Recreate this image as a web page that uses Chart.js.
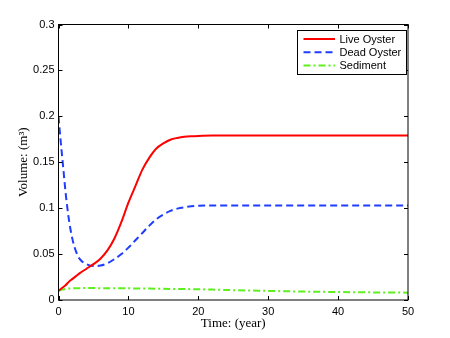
<!DOCTYPE html>
<html>
<head>
<meta charset="utf-8">
<script src="https://cdn.jsdelivr.net/npm/chart.js@4/dist/chart.umd.min.js"></script>
<style>
  html, body { margin: 0; padding: 0; background: #fff; }
  #wrap { width: 450px; height: 338px; }
</style>
</head>
<body>
<div id="wrap"><canvas id="volChart"></canvas></div>
<script>
const years = [0, 0.25, 0.5, 0.75, 1, 1.5, 2, 2.5, 3, 4, 5, 6, 7, 8, 9, 10, 11, 12, 13, 14, 15, 16, 17, 18, 19, 20, 22, 25, 30, 35, 40, 45, 50];

const liveOyster = [0.010, 0.0115, 0.013, 0.0145, 0.016, 0.020, 0.023, 0.026, 0.029, 0.034, 0.039, 0.045, 0.054, 0.067, 0.085, 0.106, 0.124, 0.142, 0.155, 0.165, 0.1705, 0.1745, 0.1765, 0.1778, 0.1784, 0.1787, 0.179, 0.179, 0.179, 0.179, 0.179, 0.179, 0.179];

const deadOyster = [0.200, 0.178, 0.158, 0.138, 0.118, 0.087, 0.066, 0.053, 0.045, 0.039, 0.037, 0.0375, 0.040, 0.0445, 0.050, 0.057, 0.065, 0.073, 0.081, 0.088, 0.093, 0.097, 0.0995, 0.101, 0.102, 0.1025, 0.103, 0.103, 0.103, 0.103, 0.103, 0.103, 0.103];

const sediment = [0.010, 0.0107, 0.0113, 0.0118, 0.0121, 0.0125, 0.0127, 0.0128, 0.0129, 0.013, 0.013, 0.0129, 0.0129, 0.0128, 0.0128, 0.0127, 0.0126, 0.0125, 0.0124, 0.0123, 0.0122, 0.0121, 0.012, 0.0119, 0.0118, 0.0117, 0.0113, 0.0107, 0.0099, 0.0092, 0.0087, 0.0083, 0.0080];

const xTicks = [0, 10, 20, 30, 40, 50];
const yTicks = [0, 0.05, 0.1, 0.15, 0.2, 0.25, 0.3];

const toPoints = vals => vals.map((v, i) => ({ x: years[i], y: v }));

// kotak sumbu + tick ke dalam ala matlab
const boxPlugin = {
  id: 'box',
  afterDatasetsDraw(chart) {
    const { ctx, chartArea: a, scales } = chart;
    ctx.save();
    ctx.strokeStyle = '#000';
    ctx.lineWidth = 1;
    ctx.strokeRect(a.left, a.top, a.right - a.left, a.bottom - a.top);
    ctx.beginPath();
    xTicks.forEach(t => {
      const px = Math.round(scales.x.getPixelForValue(t)) + 0.5;
      ctx.moveTo(px, a.bottom); ctx.lineTo(px, a.bottom - 4);
      ctx.moveTo(px, a.top); ctx.lineTo(px, a.top + 4);
    });
    yTicks.forEach(t => {
      const py = Math.round(scales.y.getPixelForValue(t)) + 0.5;
      ctx.moveTo(a.left, py); ctx.lineTo(a.left + 4, py);
      ctx.moveTo(a.right, py); ctx.lineTo(a.right - 4, py);
    });
    ctx.stroke();
    ctx.restore();
  }
};

// legenda di dalam area plot, kanan atas
const legendPlugin = {
  id: 'insideLegend',
  afterDraw(chart) {
    const { ctx } = chart;
    const x0 = 297.5, y0 = 30.5, w = 109, h = 44;
    ctx.save();
    ctx.fillStyle = '#fff';
    ctx.fillRect(x0, y0, w, h);
    ctx.strokeStyle = '#000';
    ctx.lineWidth = 1;
    ctx.strokeRect(x0, y0, w, h);
    ctx.font = '11px "Liberation Sans", Arial, sans-serif';
    ctx.textBaseline = 'middle';
    chart.data.datasets.forEach((ds, i) => {
      const cy = y0 + 8.5 + i * 13.3;
      ctx.strokeStyle = ds.borderColor;
      ctx.lineWidth = ds.borderWidth;
      ctx.setLineDash(ds.borderDash || []);
      ctx.beginPath();
      ctx.moveTo(x0 + 6, cy);
      ctx.lineTo(x0 + 37.5, cy);
      ctx.stroke();
      ctx.setLineDash([]);
      ctx.fillStyle = '#000';
      ctx.fillText(ds.label, x0 + 42, cy + 0.5);
    });
    ctx.restore();
  }
};

new Chart(document.getElementById('volChart'), {
  type: 'line',
  data: {
    datasets: [
      {
        label: 'Live Oyster',
        data: toPoints(liveOyster),
        borderColor: '#ff0000',
        borderWidth: 2,
        pointRadius: 0,
        cubicInterpolationMode: 'monotone'
      },
      {
        label: 'Dead Oyster',
        data: toPoints(deadOyster),
        borderColor: '#1f3dff',
        borderWidth: 2,
        borderDash: [7, 4],
        pointRadius: 0,
        cubicInterpolationMode: 'monotone'
      },
      {
        label: 'Sediment',
        data: toPoints(sediment),
        borderColor: '#5cf01c',
        borderWidth: 2,
        borderDash: [7, 3, 2, 3],
        pointRadius: 0,
        cubicInterpolationMode: 'monotone'
      }
    ]
  },
  options: {
    responsive: true,
    maintainAspectRatio: false,
    animation: false,
    layout: { padding: { left: 0, right: 42, top: 24.5, bottom: 0 } },
    plugins: {
      legend: { display: false },
      tooltip: { enabled: false }
    },
    scales: {
      x: {
        type: 'linear',
        min: 0,
        max: 50,
        afterFit: s => { s.height = 38; },
        afterBuildTicks: s => { s.ticks = xTicks.map(v => ({ value: v })); },
        grid: { display: false, drawTicks: false },
        border: { display: false },
        ticks: {
          padding: 5,
          color: '#000',
          font: { family: '"Liberation Sans", Arial, sans-serif', size: 11 },
          maxRotation: 0
        },
        title: {
          display: true,
          text: 'Time: (year)',
          color: '#000',
          font: { family: '"Liberation Serif", "Times New Roman", serif', size: 13 },
          padding: { top: 0, bottom: 7 }
        }
      },
      y: {
        type: 'linear',
        min: 0,
        max: 0.3,
        afterFit: s => { s.width = 58.5; },
        afterBuildTicks: s => { s.ticks = yTicks.map(v => ({ value: v })); },
        grid: { display: false, drawTicks: false },
        border: { display: false },
        ticks: {
          padding: 4,
          color: '#000',
          font: { family: '"Liberation Sans", Arial, sans-serif', size: 11 },
          callback: v => String(Math.round(v * 100) / 100)
        },
        title: {
          display: true,
          text: 'Volume: (m³)',
          color: '#000',
          font: { family: '"Liberation Serif", "Times New Roman", serif', size: 13 },
          padding: { top: 16, bottom: 0 }
        }
      }
    }
  },
  plugins: [boxPlugin, legendPlugin]
});
</script>
</body>
</html>
